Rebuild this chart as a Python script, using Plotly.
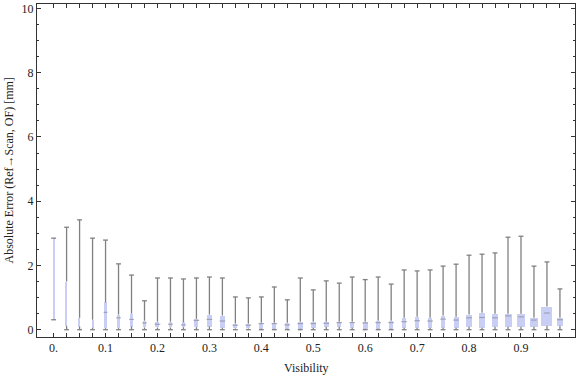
import numpy as np
import plotly.graph_objects as go

# ---- data ----
visibility = [0.0, 0.025, 0.05, 0.075, 0.1, 0.125, 0.15, 0.175, 0.2, 0.225,
              0.25, 0.275, 0.3, 0.325, 0.35, 0.375, 0.4, 0.425, 0.45, 0.475,
              0.5, 0.525, 0.55, 0.575, 0.6, 0.625, 0.65, 0.675, 0.7, 0.725,
              0.75, 0.775, 0.8, 0.825, 0.85, 0.875, 0.9, 0.925, 0.95, 0.975]

upper = [2.85, 3.19, 3.42, 2.85, 2.79, 2.05, 1.70, 0.90, 1.61, 1.61,
         1.58, 1.61, 1.64, 1.61, 1.02, 0.99, 1.02, 1.33, 0.93, 1.61,
         1.24, 1.52, 1.45, 1.64, 1.56, 1.64, 1.42, 1.86, 1.83, 1.86,
         1.98, 2.04, 2.32, 2.35, 2.39, 2.88, 2.91, 1.98, 2.11, 1.27]

q3 = [2.85, 1.50, 0.37, 0.31, 0.85, 0.47, 0.50, 0.28, 0.25, 0.25,
      0.23, 0.34, 0.47, 0.44, 0.19, 0.19, 0.22, 0.22, 0.22, 0.25,
      0.25, 0.25, 0.25, 0.25, 0.25, 0.28, 0.28, 0.37, 0.40, 0.37,
      0.44, 0.40, 0.47, 0.53, 0.50, 0.50, 0.50, 0.37, 0.72, 0.37]

median = [1.20, 0.50, 0.20, 0.15, 0.54, 0.37, 0.32, 0.21, 0.17, 0.17,
          0.15, 0.29, 0.32, 0.27, 0.14, 0.14, 0.19, 0.19, 0.15, 0.19,
          0.19, 0.20, 0.22, 0.22, 0.21, 0.22, 0.22, 0.25, 0.28, 0.27,
          0.33, 0.30, 0.37, 0.38, 0.37, 0.43, 0.40, 0.30, 0.52, 0.31]

q1 = [0.31, 0.12, 0.10, 0.06, 0.05, 0.05, 0.10, 0.07, 0.07, 0.07,
      0.08, 0.08, 0.10, 0.06, 0.04, 0.04, 0.03, 0.03, 0.03, 0.03,
      0.06, 0.09, 0.09, 0.06, 0.03, 0.03, 0.03, 0.06, 0.06, 0.06,
      0.06, 0.06, 0.09, 0.06, 0.09, 0.09, 0.09, 0.09, 0.12, 0.12]

lower = [0.31, 0.0, 0.0, 0.0, 0.0, 0.0, 0.0, 0.0, 0.0, 0.0,
         0.0, 0.0, 0.0, 0.0, 0.0, 0.0, 0.0, 0.0, 0.0, 0.0,
         0.0, 0.0, 0.0, 0.0, 0.0, 0.0, 0.0, 0.0, 0.0, 0.0,
         0.0, 0.0, 0.0, 0.0, 0.0, 0.0, 0.0, 0.0, 0.0, 0.0]

# box widths (pixels in the reference chart)
box_width_px = [1.0, 1.3, 1.7, 2.0, 2.7, 3.3, 3.3, 3.3, 4.0, 3.5,
                3.5, 4.0, 5.0, 5.0, 4.0, 4.0, 4.3, 4.3, 4.3, 5.3,
                5.0, 4.7, 4.3, 4.3, 4.7, 4.3, 4.0, 4.0, 4.3, 4.0,
                4.3, 5.0, 5.3, 5.3, 6.0, 7.0, 8.7, 8.7, 11.0, 6.0]

tick_labels = {0.0: "0.", 0.1: "0.1", 0.2: "0.2", 0.3: "0.3", 0.4: "0.4",
               0.5: "0.5", 0.6: "0.6", 0.7: "0.7", 0.8: "0.8", 0.9: "0.9"}

# ---- styling ----
FONT = "Liberation Serif"
BOX_FILL = "#c9cff4"
WHISK = "#808080"
X_RANGE = [-0.032, 1.004]
Y_RANGE = [-0.227, 10.14]
ML, MR, MT, MB = 37, 1, 4, 40
PLOT_W_PX = 576 - ML - MR
px_per_unit = PLOT_W_PX / (X_RANGE[1] - X_RANGE[0])

wpx = np.array(box_width_px)
widths = wpx / px_per_unit

# whisker segments (q3 -> upper, lower -> q1)
wx, wy = [], []
for xi, lo, a, b, up in zip(visibility, lower, q1, q3, upper):
    if up > b:
        wx += [xi, xi, None]
        wy += [b, up, None]
    if a > lo:
        wx += [xi, xi, None]
        wy += [lo, a, None]

fig = go.Figure()

fig.add_trace(go.Bar(
    x=visibility, base=q1, y=list(np.array(q3) - np.array(q1)),
    width=widths, marker=dict(color=BOX_FILL, line=dict(width=0)),
    hoverinfo="skip", showlegend=False))

fig.add_trace(go.Scatter(
    x=wx, y=wy, mode="lines", line=dict(color=WHISK, width=1.3),
    hoverinfo="skip", showlegend=False))

fig.add_trace(go.Scatter(
    x=visibility + visibility, y=upper + lower, mode="markers",
    marker=dict(symbol="line-ew", size=3.5, line=dict(color=WHISK, width=1.3)),
    hoverinfo="skip", showlegend=False))

med_size = np.where(wpx >= 2.5, np.minimum(wpx, 4), 0)
fig.add_trace(go.Scatter(
    x=visibility, y=median, mode="markers",
    marker=dict(symbol="line-ew", size=list(med_size),
                line=dict(color="#8c8c9c", width=1.2)),
    hoverinfo="skip", showlegend=False))

ticktext = [tick_labels.get(round(v, 3), "") for v in visibility]

axis_common = dict(
    showline=True, linecolor="#333333", linewidth=1, mirror="allticks",
    ticks="inside", ticklen=4, tickcolor="#333333", tickwidth=1,
    showgrid=False, zeroline=False, automargin=False,
    tickfont=dict(family=FONT, size=12, color="#222222"),
)

fig.update_layout(
    width=576, height=377,
    margin=dict(l=ML, r=MR, t=MT, b=MB),
    paper_bgcolor="white", plot_bgcolor="white",
    bargap=0,
    xaxis=dict(range=X_RANGE, tickmode="array", tickvals=visibility,
               ticktext=ticktext, **axis_common),
    yaxis=dict(range=Y_RANGE, tickmode="array", tickvals=[0, 2, 4, 6, 8, 10],
               minor=dict(tickmode="array", tickvals=[0.5, 1, 1.5, 2.5, 3, 3.5, 4.5, 5, 5.5,
                                                      6.5, 7, 7.5, 8.5, 9, 9.5],
                          ticks="inside", ticklen=2, tickcolor="#333333"),
               **axis_common),
    annotations=[
        dict(text="Visibility", xref="paper", yref="paper", x=0.5, y=0,
             xanchor="center", yanchor="middle", yshift=-31, showarrow=False,
             font=dict(family=FONT, size=12, color="#222222")),
        dict(text="Absolute Error (Ref\u2192Scan, OF) [mm]", xref="paper", yref="paper",
             x=0, y=0.5, xanchor="center", yanchor="middle", xshift=-29, textangle=-90,
             showarrow=False, font=dict(family=FONT, size=12, color="#222222")),
    ],
)

fig.write_html("out.html",
               config={"displayModeBar": False},
               post_script="document.body.style.margin='0px';"
                           "document.body.style.overflow='hidden';")
